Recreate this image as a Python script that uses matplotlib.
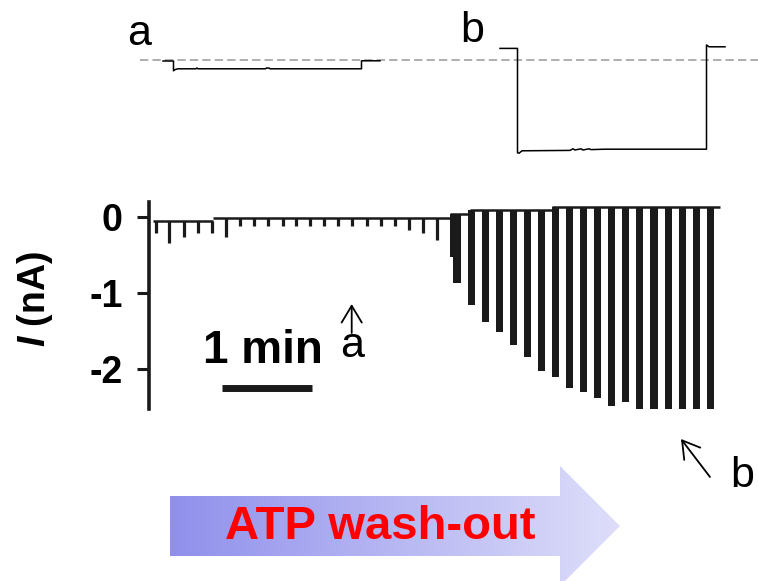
import numpy as np
import matplotlib.pyplot as plt
from matplotlib.colors import LinearSegmentedColormap
from matplotlib.patches import Polygon

plt.rcParams['font.family'] = 'Liberation Sans'
plt.rcParams['mathtext.fontset'] = 'custom'
plt.rcParams['mathtext.it'] = 'Liberation Sans:italic:bold'
plt.rcParams['mathtext.rm'] = 'Liberation Sans:bold'

W, H = 758, 581
INK = '#1a1a1a'

# ---------------------------------------------------------------------------
# data: whole-cell current during ATP wash-out (time in s, current in nA)
# ---------------------------------------------------------------------------
base_start = [2.7, 42.7, 201.0, 214.0, 269.0]
base_end = [42.7, 201.0, 214.0, 269.0, 381.0]
base_level = [-0.05, -0.01, 0.04, 0.09, 0.135]

# thin pulses (before wash-out current develops)
pulse_t = [4.5, 13.6, 23.3, 32.9, 41.8, 51.3, 60.7, 70.0, 79.5, 89.1, 98.0,
           107.3, 116.9, 126.2, 135.5, 145.1, 154.5, 164.0, 173.5, 182.9, 192.2]
pulse_i = [-0.21, -0.34, -0.26, -0.21, -0.21, -0.26, -0.12, -0.12, -0.12, -0.12,
           -0.12, -0.12, -0.12, -0.12, -0.12, -0.12, -0.12, -0.12, -0.17, -0.21, -0.30]

# thick pulses (current growing)
bar_t = [203.1, 205.3, 215.1, 224.2, 233.8, 243.1, 252.5, 261.5, 270.9, 280.2,
         289.8, 299.1, 308.5, 317.8, 327.1, 336.7, 346.5, 355.8, 365.1, 374.5]
bar_i = [-0.52, -0.87, -1.16, -1.38, -1.51, -1.69, -1.84, -2.03, -2.11, -2.25,
         -2.30, -2.39, -2.49, -2.44, -2.54, -2.54, -2.54, -2.54, -2.54, -2.54]

# example sweeps a and b (time in ms from sweep start, current in nA)
trace_a_t = [0, 21, 21, 24, 30, 66, 68, 70, 205, 207, 212, 214, 397, 397, 434]
trace_a_i = [-0.025, -0.025, -0.27, -0.24, -0.22, -0.22, -0.20, -0.22, -0.22,
             -0.20, -0.20, -0.22, -0.22, -0.02, -0.02]
trace_b_t = [0, 35, 35, 38, 44, 140, 146, 150, 162, 166, 178, 182, 210, 413, 413, 418, 450]
trace_b_i = [0.29, 0.29, -2.32, -2.33, -2.27, -2.26, -2.22, -2.25, -2.22, -2.25,
             -2.22, -2.24, -2.23, -2.23, 0.375, 0.33, 0.33]
offset_a = 46
offset_b = 720


def base_at(t):
    for s, e, lev in zip(base_start, base_end, base_level):
        if s <= t < e:
            return lev
    return base_level[-1]


fig = plt.figure(figsize=(W / 100, H / 100), dpi=100)

# ---------------------------------------------------------------------------
# main current trace
# ---------------------------------------------------------------------------
ax = fig.add_axes([149 / W, 1 - 409 / H, 576 / W, 207 / H])
ax.set_facecolor('none')
ax.set_xlim(0, 384)
ax.set_ylim(-2.53, 0.2)

ax.hlines(base_level, base_start, base_end, color=INK, lw=1.8)
ax.vlines(pulse_t, [base_at(t) for t in pulse_t], pulse_i, color=INK, lw=2.3)
bar_base = np.array([base_at(t) for t in bar_t])
ax.bar(bar_t, np.array(bar_i) - bar_base, bottom=bar_base, width=4.9,
       color=INK, linewidth=0)

# 1 min scale bar
ax.plot([48.5, 108.5], [-2.25, -2.25], color=INK, lw=5, solid_capstyle='butt')

for s in ['top', 'right', 'bottom']:
    ax.spines[s].set_visible(False)
ax.spines['left'].set_linewidth(2.6)
ax.spines['left'].set_color(INK)
ax.set_xticks([])
ax.set_yticks([0, -1, -2])
ax.set_yticklabels(['0', '-1', '-2'])
ax.tick_params(axis='y', direction='out', length=9, width=2.2, color=INK,
               labelsize=27, pad=10)
for lab in ax.get_yticklabels():
    lab.set_fontweight('bold')
ax.set_ylabel(r'$I$ (nA)', fontsize=27, fontweight='bold')
ax.yaxis.set_label_coords(-0.163, 0.531)

# ---------------------------------------------------------------------------
# example sweeps
# ---------------------------------------------------------------------------
axt = fig.add_axes([140 / W, 1 - 170 / H, 618 / W, 150 / H])
axt.set_facecolor('none')
axt.set_xlim(0, 1236)
axt.set_ylim(-2.75, 1.0)
axt.axis('off')
axt.axhline(0, color='#a8a8a8', lw=1.3, dashes=(4.6, 2.3))
axt.plot(np.array(trace_a_t) + offset_a, trace_a_i, color='black', lw=1.1)
axt.plot(np.array(trace_b_t) + offset_b, trace_b_i, color='black', lw=1.1)

# ---------------------------------------------------------------------------
# labels, arrows and the wash-out banner (pixel coordinates)
# ---------------------------------------------------------------------------
ov = fig.add_axes([0, 0, 1, 1])
ov.set_facecolor('none')
ov.axis('off')

verts = [(170, 496), (560, 496), (560, 466), (620, 526), (560, 586),
         (560, 556), (170, 556)]
cmap = LinearSegmentedColormap.from_list('wash', ['#9090ec', '#dedefa'])
grad = np.linspace(0, 1, 256).reshape(1, -1)
im = ov.imshow(grad, cmap=cmap, aspect='auto', extent=(170, 620, 586, 466))
arrow = Polygon(verts, closed=True, transform=ov.transData)
im.set_clip_path(arrow)
ov.set_xlim(0, W)
ov.set_ylim(H, 0)

ov.text(380, 527, 'ATP wash-out', color='#ff0000', fontsize=34,
        fontweight='bold', ha='center', va='center')

ov.text(139, 34, 'a', fontsize=31, ha='center', va='center')
ov.text(472, 31, 'b', fontsize=31, ha='center', va='center')
ov.text(263, 363, '1 min', fontsize=33, fontweight='bold', ha='center',
        va='baseline')

head = '->, head_length=0.55, head_width=0.33'
ov.annotate('', xy=(351.7, 304), xytext=(351.7, 333),
            arrowprops=dict(arrowstyle=head, lw=1.3, color='black',
                            mutation_scale=22, shrinkA=0, shrinkB=0))
ov.text(352, 346, 'a', fontsize=31, ha='center', va='center')

ov.annotate('', xy=(681, 439), xytext=(710, 477),
            arrowprops=dict(arrowstyle=head, lw=1.3, color='black',
                            mutation_scale=22, shrinkA=0, shrinkB=0))
ov.text(742, 476, 'b', fontsize=31, ha='center', va='center')

plt.savefig('out.png', dpi=100)
